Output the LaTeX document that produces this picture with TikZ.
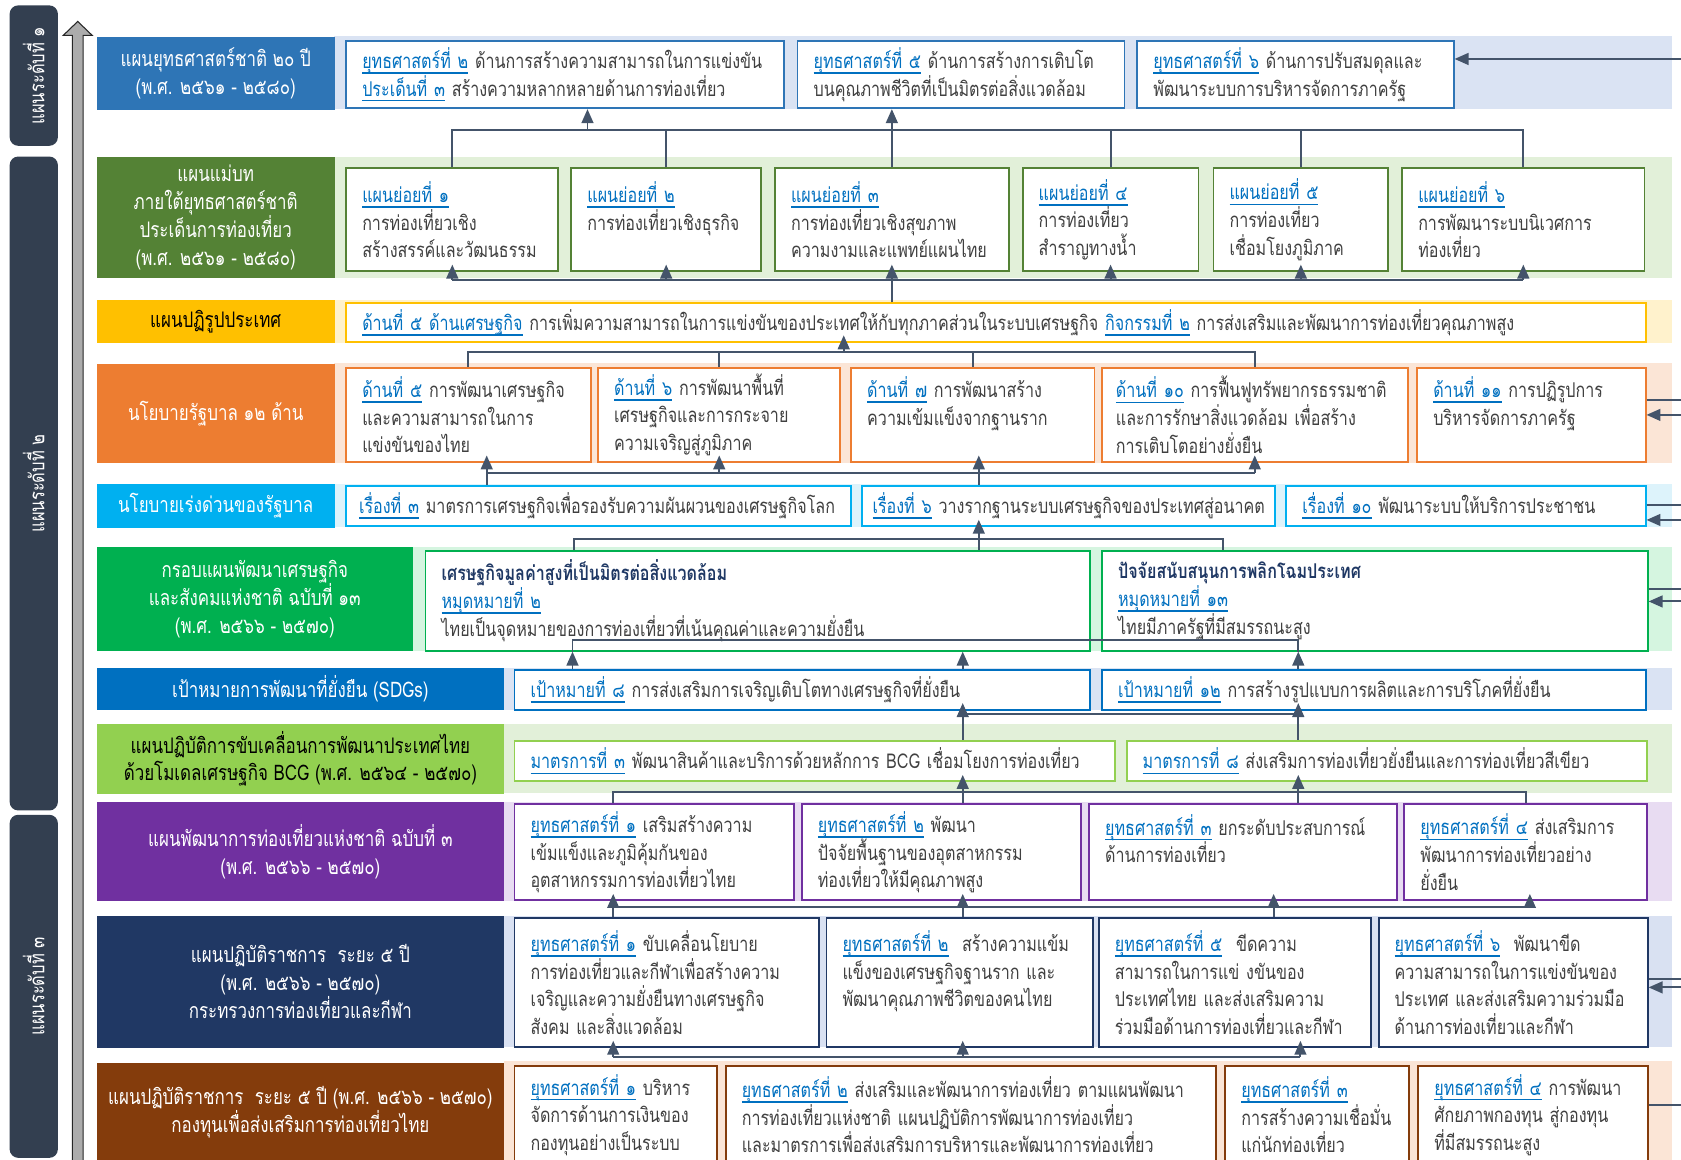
\documentclass[tikz,border=0pt]{standalone}
\usepackage{fontspec}
\setmainfont{Loma}[Script=Thai, FakeStretch=0.79]
\usetikzlibrary{arrows.meta}

\definecolor{natblue}{HTML}{2E75B6}
\definecolor{bandblue}{HTML}{DAE3F3}
\definecolor{mgreen}{HTML}{548235}
\definecolor{bandgreen}{HTML}{E2F0D9}
\definecolor{gold}{HTML}{FFC000}
\definecolor{bandgold}{HTML}{FFF2CC}
\definecolor{orange}{HTML}{ED7D31}
\definecolor{bandorange}{HTML}{FBE5D6}
\definecolor{cyan}{HTML}{00B0F0}
\definecolor{bandcyan}{HTML}{DDF3FB}
\definecolor{ngreen}{HTML}{00B050}
\definecolor{bandmint}{HTML}{D5F5E0}
\definecolor{sdgblue}{HTML}{0070C0}
\definecolor{bcg}{HTML}{92D050}
\definecolor{purple}{HTML}{7030A0}
\definecolor{bandpurple}{HTML}{E8DCF2}
\definecolor{navy}{HTML}{203864}
\definecolor{bandnavy}{HTML}{D9E1F2}
\definecolor{brown}{HTML}{843C0C}
\definecolor{linkgray}{HTML}{44546A}
\definecolor{lvlgray}{HTML}{333F50}
\definecolor{txtgray}{HTML}{404040}
\definecolor{tagblue}{HTML}{0070C0}
\definecolor{titlenavy}{HTML}{1F3864}

\newcommand\ulb[1]{\textcolor{tagblue}{\setbox0\hbox{#1}\rlap{\rule[-5pt]{\wd0}{1.5pt}}\box0}}

\tikzset{
  lab/.style={fill=#1, text=white, anchor=north west, align=center, inner sep=2pt,
              font=\fontsize{20}{26}\selectfont},
  cbox/.style={draw=#1, fill=white, line width=1.8pt, anchor=north west, align=left,
               inner xsep=15pt, inner ysep=2pt, text=txtgray},
  lvl/.style={fill=lvlgray, text=white, rounded corners=8pt, rotate=90, inner sep=0pt,
              font=\fontsize{19.5}{22}\selectfont},
  link/.style={draw=linkgray, line width=1.8pt},
  arr0/.style={link, -{Triangle[width=11pt,length=13pt]}},
  arr/.style={arr0, shorten >=-7pt},
}

\begin{document}
\begin{tikzpicture}[x=1pt, y=-1pt, font=\fontsize{19}{25.8}\selectfont]
\useasboundingbox (0,0) rectangle (1568,1082);
\clip (0,0) rectangle (1568,1082);

% plan levels
\node[lvl, minimum width=131pt, minimum height=45pt] (lv1) at (31.5,70.5) {แผนระดับที่ ๑};
\node[lvl, minimum width=610pt, minimum height=45pt] (lv2) at (31.5,451) {แผนระดับที่ ๒};
\node[lvl, minimum width=320pt, minimum height=45pt] (lv3) at (31.5,920) {แผนระดับที่ ๓};
\fill[gray!65, draw=black!85, line width=1pt] (67.5,1100) -- (67.5,33) -- (59,33) -- (72.5,20)
  -- (86,33) -- (77.5,33) -- (77.5,1100) -- cycle;

% bands
\fill[bandblue]   (312,34) rectangle (1560,102);
\fill[bandgreen]  (312,146) rectangle (1560,259);
\fill[bandgold]   (312,280) rectangle (1560,320);
\fill[bandorange] (312,339) rectangle (1560,432);
\fill[bandcyan]   (312,451) rectangle (1560,492);
\fill[bandmint]   (385,510) rectangle (1560,607);
\fill[bandblue]   (470,623) rectangle (1560,662);
\fill[bandgreen]  (470,675) rectangle (1560,740);
\fill[bandpurple] (470,748) rectangle (1560,840);
\fill[bandnavy]   (470,854) rectangle (1560,977);
\fill[bandorange] (470,990) rectangle (1560,1090);

% row titles
\node[lab=natblue, minimum width=222pt, minimum height=68pt] (r1) at (90,34)
  {แผนยุทธศาสตร์ชาติ ๒๐ ปี\\(พ.ศ. ๒๕๖๑ - ๒๕๘๐)};
\node[lab=mgreen, minimum width=222pt, minimum height=113pt] (r2) at (90,146)
  {แผนแม่บท\\ภายใต้ยุทธศาสตร์ชาติ\\ประเด็นการท่องเที่ยว\\(พ.ศ. ๒๕๖๑ - ๒๕๘๐)};
\node[lab=gold, text=black, minimum width=222pt, minimum height=40pt] (r3) at (90,280)
  {แผนปฏิรูปประเทศ};
\node[lab=orange, minimum width=222pt, minimum height=93pt] (r4) at (90,339)
  {นโยบายรัฐบาล ๑๒ ด้าน};
\node[lab=cyan, minimum width=222pt, minimum height=41pt] (r5) at (90,451)
  {นโยบายเร่งด่วนของรัฐบาล};
\node[lab=ngreen, minimum width=295pt, minimum height=97pt] (r6) at (90,510)
  {กรอบแผนพัฒนาเศรษฐกิจ\\และสังคมแห่งชาติ ฉบับที่ ๑๓\\(พ.ศ. ๒๕๖๖ - ๒๕๗๐)};
\node[lab=sdgblue, minimum width=380pt, minimum height=39pt] (r7) at (90,623)
  {เป้าหมายการพัฒนาที่ยั่งยืน (SDGs)};
\node[lab=bcg, text=black, minimum width=380pt, minimum height=65pt] (r8) at (90,675)
  {แผนปฏิบัติการขับเคลื่อนการพัฒนาประเทศไทย\\ด้วยโมเดลเศรษฐกิจ BCG (พ.ศ. ๒๕๖๔ - ๒๕๗๐)};
\node[lab=purple, minimum width=380pt, minimum height=92pt] (r9) at (90,748)
  {แผนพัฒนาการท่องเที่ยวแห่งชาติ ฉบับที่ ๓\\(พ.ศ. ๒๕๖๖ - ๒๕๗๐)};
\node[lab=navy, minimum width=380pt, minimum height=123pt] (r10) at (90,854)
  {แผนปฏิบัติราชการ\ \ ระยะ ๕ ปี\\(พ.ศ. ๒๕๖๖ - ๒๕๗๐)\\กระทรวงการท่องเที่ยวและกีฬา};
\node[lab=brown, minimum width=380pt, minimum height=92pt] (r11) at (90,991)
  {แผนปฏิบัติราชการ\ \ ระยะ ๕ ปี (พ.ศ. ๒๕๖๖ - ๒๕๗๐)\\กองทุนเพื่อส่งเสริมการท่องเที่ยวไทย};

% national strategy
\node[cbox=natblue, minimum width=408pt, minimum height=63pt, text width=378pt] (s2) at (322,37)
  {\ulb{ยุทธศาสตร์ที่ ๒} ด้านการสร้างความสามารถในการแข่งขัน\\\ulb{ประเด็นที่ ๓} สร้างความหลากหลายด้านการท่องเที่ยว};
\node[cbox=natblue, minimum width=305pt, minimum height=63pt, text width=275pt] (s5) at (743,37)
  {\ulb{ยุทธศาสตร์ที่ ๕} ด้านการสร้างการเติบโต\\บนคุณภาพชีวิตที่เป็นมิตรต่อสิ่งแวดล้อม};
\node[cbox=natblue, minimum width=295pt, minimum height=63pt, text width=265pt] (s6) at (1060,37)
  {\ulb{ยุทธศาสตร์ที่ ๖} ด้านการปรับสมดุลและ\\พัฒนาระบบการบริหารจัดการภาครัฐ};

% master plan
\node[cbox=mgreen, minimum width=198pt, minimum height=96pt, text width=168pt] (m1) at (322,156)
  {\ulb{แผนย่อยที่ ๑}\\การท่องเที่ยวเชิง\\สร้างสรรค์และวัฒนธรรม};
\node[cbox=mgreen, minimum width=177pt, minimum height=96pt, text width=147pt] (m2) at (532,156)
  {\ulb{แผนย่อยที่ ๒}\\การท่องเที่ยวเชิงธุรกิจ\\\mbox{}};
\node[cbox=mgreen, minimum width=218pt, minimum height=96pt, text width=188pt] (m3) at (722,156)
  {\ulb{แผนย่อยที่ ๓}\\การท่องเที่ยวเชิงสุขภาพ\\ความงามและแพทย์แผนไทย};
\node[cbox=mgreen, minimum width=164pt, minimum height=96pt, text width=134pt] (m4) at (953,156)
  {\ulb{แผนย่อยที่ ๔}\\การท่องเที่ยว\\สำราญทางน้ำ};
\node[cbox=mgreen, minimum width=163pt, minimum height=96pt, text width=133pt] (m5) at (1131,156)
  {\ulb{แผนย่อยที่ ๕}\\การท่องเที่ยว\\เชื่อมโยงภูมิภาค};
\node[cbox=mgreen, minimum width=226pt, minimum height=96pt, text width=196pt] (m6) at (1307,156)
  {\ulb{แผนย่อยที่ ๖}\\การพัฒนาระบบนิเวศการ\\ท่องเที่ยว};

% reform plan
\node[cbox=gold, minimum width=1212pt, minimum height=36pt, text width=1182pt] (ref) at (322,282)
  {\ulb{ด้านที่ ๕ ด้านเศรษฐกิจ} การเพิ่มความสามารถในการแข่งขันของประเทศให้กับทุกภาคส่วนในระบบเศรษฐกิจ \ulb{กิจกรรมที่ ๒} การส่งเสริมและพัฒนาการท่องเที่ยวคุณภาพสูง};

% government policy
\node[cbox=orange, minimum width=228pt, minimum height=88pt, text width=198pt] (g5) at (322,342)
  {\ulb{ด้านที่ ๕} การพัฒนาเศรษฐกิจ\\และความสามารถในการ\\แข่งขันของไทย};
\node[cbox=orange, minimum width=226pt, minimum height=88pt, text width=196pt] (g6) at (557,342)
  {\ulb{ด้านที่ ๖} การพัฒนาพื้นที่\\เศรษฐกิจและการกระจาย\\ความเจริญสู่ภูมิภาค};
\node[cbox=orange, minimum width=227pt, minimum height=88pt, text width=197pt] (g7) at (793,342)
  {\ulb{ด้านที่ ๗} การพัฒนาสร้าง\\ความเข้มแข็งจากฐานราก\\\mbox{}};
\node[cbox=orange, minimum width=285pt, minimum height=88pt, text width=259pt, inner xsep=13pt] (g10) at (1027,342)
  {\ulb{ด้านที่ ๑๐} การฟื้นฟูทรัพยากรธรรมชาติ\\และการรักษาสิ่งแวดล้อม เพื่อสร้าง\\การเติบโตอย่างยั่งยืน};
\node[cbox=orange, minimum width=213pt, minimum height=88pt, text width=183pt] (g11) at (1321,342)
  {\ulb{ด้านที่ ๑๑} การปฏิรูปการ\\บริหารจัดการภาครัฐ\\\mbox{}};

% urgent policy
\node[cbox=cyan, minimum width=471pt, minimum height=38pt, text width=447pt, inner xsep=12pt] (u3) at (322,452)
  {\ulb{เรื่องที่ ๓} มาตรการเศรษฐกิจเพื่อรองรับความผันผวนของเศรษฐกิจโลก};
\node[cbox=cyan, minimum width=385pt, minimum height=38pt, text width=365pt, inner xsep=10pt] (u6) at (803,452)
  {\ulb{เรื่องที่ ๖} วางรากฐานระบบเศรษฐกิจของประเทศสู่อนาคต};
\node[cbox=cyan, minimum width=335pt, minimum height=38pt, text width=305pt] (u10) at (1199,452)
  {\ulb{เรื่องที่ ๑๐} พัฒนาระบบให้บริการประชาชน};

% national economic and social plan
\node[cbox=ngreen, minimum width=620pt, minimum height=93pt, text width=590pt] (n2) at (396,513)
  {{\bfseries\color{titlenavy}เศรษฐกิจมูลค่าสูงที่เป็นมิตรต่อสิ่งแวดล้อม}\\\ulb{หมุดหมายที่ ๒}\\ไทยเป็นจุดหมายของการท่องเที่ยวที่เน้นคุณค่าและความยั่งยืน};
\node[cbox=ngreen, minimum width=509pt, minimum height=93pt, text width=479pt] (n13) at (1027,513)
  {{\bfseries\color{titlenavy}ปัจจัยสนับสนุนการพลิกโฉมประเทศ}\\\ulb{หมุดหมายที่ ๑๓}\\ไทยมีภาครัฐที่มีสมรรถนะสูง};

% SDGs
\node[cbox=sdgblue, minimum width=537pt, minimum height=37pt, text width=507pt] (d8) at (479,624)
  {\ulb{เป้าหมายที่ ๘} การส่งเสริมการเจริญเติบโตทางเศรษฐกิจที่ยั่งยืน};
\node[cbox=sdgblue, minimum width=507pt, minimum height=37pt, text width=477pt] (d12) at (1027,624)
  {\ulb{เป้าหมายที่ ๑๒} การสร้างรูปแบบการผลิตและการบริโภคที่ยั่งยืน};

% BCG
\node[cbox=bcg, minimum width=560pt, minimum height=38pt, text width=530pt] (b3) at (479,690)
  {\ulb{มาตรการที่ ๓} พัฒนาสินค้าและบริการด้วยหลักการ BCG เชื่อมโยงการท่องเที่ยว};
\node[cbox=bcg, minimum width=485pt, minimum height=38pt, text width=455pt] (b8) at (1050,690)
  {\ulb{มาตรการที่ ๘} ส่งเสริมการท่องเที่ยวยั่งยืนและการท่องเที่ยวสีเขียว};

% national tourism plan
\node[cbox=purple, minimum width=261pt, minimum height=90pt, text width=231pt] (t1) at (479,749)
  {\ulb{ยุทธศาสตร์ที่ ๑} เสริมสร้างความ\\เข้มแข็งและภูมิคุ้มกันของ\\อุตสาหกรรมการท่องเที่ยวไทย};
\node[cbox=purple, minimum width=260pt, minimum height=90pt, text width=230pt] (t2) at (747,749)
  {\ulb{ยุทธศาสตร์ที่ ๒} พัฒนา\\ปัจจัยพื้นฐานของอุตสาหกรรม\\ท่องเที่ยวให้มีคุณภาพสูง};
\node[cbox=purple, minimum width=287pt, minimum height=90pt, text width=257pt] (t3) at (1015,749)
  {\ulb{ยุทธศาสตร์ที่ ๓} ยกระดับประสบการณ์\\ด้านการท่องเที่ยว\\\mbox{}};
\node[cbox=purple, minimum width=226pt, minimum height=90pt, text width=196pt] (t4) at (1309,749)
  {\ulb{ยุทธศาสตร์ที่ ๔} ส่งเสริมการ\\พัฒนาการท่องเที่ยวอย่าง\\ยั่งยืน};

% ministry action plan
\node[cbox=navy, minimum width=284pt, minimum height=121pt, text width=254pt] (o1) at (479,855)
  {\ulb{ยุทธศาสตร์ที่ ๑} ขับเคลื่อนโยบาย\\การท่องเที่ยวและกีฬาเพื่อสร้างความ\\เจริญและความยั่งยืนทางเศรษฐกิจ\\สังคม และสิ่งแวดล้อม};
\node[cbox=navy, minimum width=249pt, minimum height=121pt, text width=219pt] (o2) at (770,855)
  {\ulb{ยุทธศาสตร์ที่ ๒}\ \ สร้างความแข้ม\\แข็งของเศรษฐกิจฐานราก และ\\พัฒนาคุณภาพชีวิตของคนไทย\\\mbox{}};
\node[cbox=navy, minimum width=254pt, minimum height=121pt, text width=224pt] (o5) at (1024,855)
  {\ulb{ยุทธศาสตร์ที่ ๕}\ \ ขีดความ\\สามารถในการแข่ งขันของ\\ประเทศไทย และส่งเสริมความ\\ร่วมมือด้านการท่องเที่ยวและกีฬา};
\node[cbox=navy, minimum width=251pt, minimum height=121pt, text width=221pt] (o6) at (1285,855)
  {\ulb{ยุทธศาสตร์ที่ ๖}\ \ พัฒนาขีด\\ความสามารถในการแข่งขันของ\\ประเทศ และส่งเสริมความร่วมมือ\\ด้านการท่องเที่ยวและกีฬา};

% fund action plan
\node[cbox=brown, minimum width=189pt, minimum height=92pt, text width=159pt] (f1) at (479,993)
  {\ulb{ยุทธศาสตร์ที่ ๑} บริหาร\\จัดการด้านการเงินของ\\กองทุนอย่างเป็นระบบ};
\node[cbox=brown, minimum width=457pt, minimum height=92pt, text width=427pt] (f2) at (676,993)
  {\ulb{ยุทธศาสตร์ที่ ๒} ส่งเสริมและพัฒนาการท่องเที่ยว ตามแผนพัฒนา\\การท่องเที่ยวแห่งชาติ แผนปฏิบัติการพัฒนาการท่องเที่ยว\\และมาตรการเพื่อส่งเสริมการบริหารและพัฒนาการท่องเที่ยว};
\node[cbox=brown, minimum width=171pt, minimum height=92pt, text width=141pt] (f3) at (1142,993)
  {\ulb{ยุทธศาสตร์ที่ ๓}\\การสร้างความเชื่อมั่น\\แก่นักท่องเที่ยว};
\node[cbox=brown, minimum width=214pt, minimum height=92pt, text width=184pt] (f4) at (1322,993)
  {\ulb{ยุทธศาสตร์ที่ ๔} การพัฒนา\\ศักยภาพกองทุน สู่กองทุน\\ที่มีสมรรถนะสูง};

% bus lines
\coordinate (b12) at (0,121);
\coordinate (s2in) at (548,121);
\coordinate (b23) at (0,261);
\coordinate (b34) at (0,328);
\coordinate (refin) at (787,328);
\coordinate (b45a) at (454,441);
\coordinate (b45b) at (913,441);
\coordinate (b56a) at (535,503);
\coordinate (b56b) at (1141,503);
\coordinate (c67a) at (534,597);
\coordinate (c67c) at (1211,597);
\coordinate (b78a) at (898,666);
\coordinate (b78b) at (1211,666);
\coordinate (b89a) at (572,739);
\coordinate (b89b) at (1423,739);
\coordinate (b910a) at (1188,846);
\coordinate (b910b) at (1427,846);
\coordinate (b1011) at (1213,986);

% master plan -> national strategy
\draw[link] (m1.north) -- (m1.north |- b12) -- (m6.north |- b12) -- (m6.north);
\draw[link] (m2.north) -- (m2.north |- b12);
\draw[link] (m4.north) -- (m4.north |- b12);
\draw[link] (m5.north) -- (m5.north |- b12);
\draw[arr0] (m3.north) -- (m3.north |- s5.south);
\draw[arr0] (s2in) -- (s2in |- s2.south);

% reform -> master plan
\draw[link] (m1.south |- b23) -- (m6.south |- b23);
\draw[arr] (m1.south |- b23) -- (m1.south);
\draw[arr] (m2.south |- b23) -- (m2.south);
\draw[arr] (m4.south |- b23) -- (m4.south);
\draw[arr] (m5.south |- b23) -- (m5.south);
\draw[arr] (m6.south |- b23) -- (m6.south);
\draw[arr] (ref.north -| m3.south) -- (m3.south);

% policy -> reform
\draw[link] (g5.north) -- (g5.north |- b34) -- (g10.north |- b34) -- (g10.north);
\draw[link] (g6.north) -- (g6.north |- b34);
\draw[link] (g7.north) -- (g7.north |- b34);
\draw[arr] (refin) -- (refin |- ref.south);

% urgent policy -> policy
\draw[arr] (b45a |- u3.north) -- (b45a |- g5.south);
\draw[arr] (b45b |- u6.north) -- (b45b |- g7.south);
\draw[link] (b45a) -- (b45a -| g10.south);
\draw[arr] (b45a -| g6.south) -- (g6.south);
\draw[arr] (b45a -| g10.south) -- (g10.south);

% NESDP -> urgent policy
\draw[link] (b56a |- n2.north) -- (b56a) -- (b56b) -- (b56b |- n13.north);
\draw[arr] (b45b |- n2.north) -- (b45b |- u6.south);

% SDGs -> NESDP
\draw[arr0] (c67a |- d8.north) -- (c67a |- n2.south);
\draw[link] (c67a |- n2.south) -- (c67a) -- (c67c) -- (c67c |- n13.south);
\draw[arr0] (b78a |- d8.north) -- (b78a |- n2.south);
\draw[arr0] (c67c |- d12.north) -- (c67c |- n13.south);

% BCG -> SDGs
\draw[link] (b78a |- b3.north) -- (b78a) -- (b78b) -- (b78b |- b8.north);
\draw[arr] (b78a) -- (b78a |- d8.south);
\draw[arr] (b78b) -- (b78b |- d12.south);

% tourism plan -> BCG
\draw[link] (b89a |- t1.north) -- (b89a) -- (b89b) -- (b89b |- t4.north);
\draw[arr] (b78a |- t2.north) -- (b78a |- b3.south);
\draw[arr] (b78b |- t3.north) -- (b78b |- b8.south);

% ministry -> tourism plan
\draw[link] (b89a |- b910b) -- (b910b);
\draw[arr] (b89a |- o1.north) -- (b89a |- t1.south);
\draw[arr] (b78a |- o2.north) -- (b78a |- t2.south);
\draw[arr] (b910a |- o5.north) -- (b910a |- t3.south);
\draw[arr] (b910b) -- (b910b |- t4.south);

% fund -> ministry
\draw[link] (b89a |- b1011) -- (b1011);
\draw[arr] (b89a |- b1011) -- (b89a |- o1.south);
\draw[arr] (b78a |- b1011) -- (b78a |- o2.south);
\draw[arr] (b1011) -- (b1011 |- o5.south);

% links from the right
\coordinate (e1) at (1568,55);
\coordinate (e4a) at (1568,373);
\coordinate (e4b) at (1568,387);
\coordinate (e5a) at (1568,471);
\coordinate (e5b) at (1568,485);
\coordinate (e6a) at (1568,549);
\coordinate (e6b) at (1568,561);
\coordinate (e10a) at (1568,913);
\coordinate (e10b) at (1568,921);
\coordinate (e11) at (1568,1031);
\draw[arr0] (e1) -- (e1 -| s6.east);
\draw[link] (e4a -| g11.east) -- (e4a);
\draw[arr0] (e4b) -- (e4b -| g11.east);
\draw[link] (e5a -| u10.east) -- (e5a);
\draw[arr0] (e5b) -- (e5b -| u10.east);
\draw[link] (e6a -| n13.east) -- (e6a);
\draw[arr0] (e6b) -- (e6b -| n13.east);
\draw[link] (e10a -| o6.east) -- (e10a);
\draw[arr0] (e10b) -- (e10b -| o6.east);
\draw[link] (e11 -| f4.east) -- (e11);
\end{tikzpicture}
\end{document}
